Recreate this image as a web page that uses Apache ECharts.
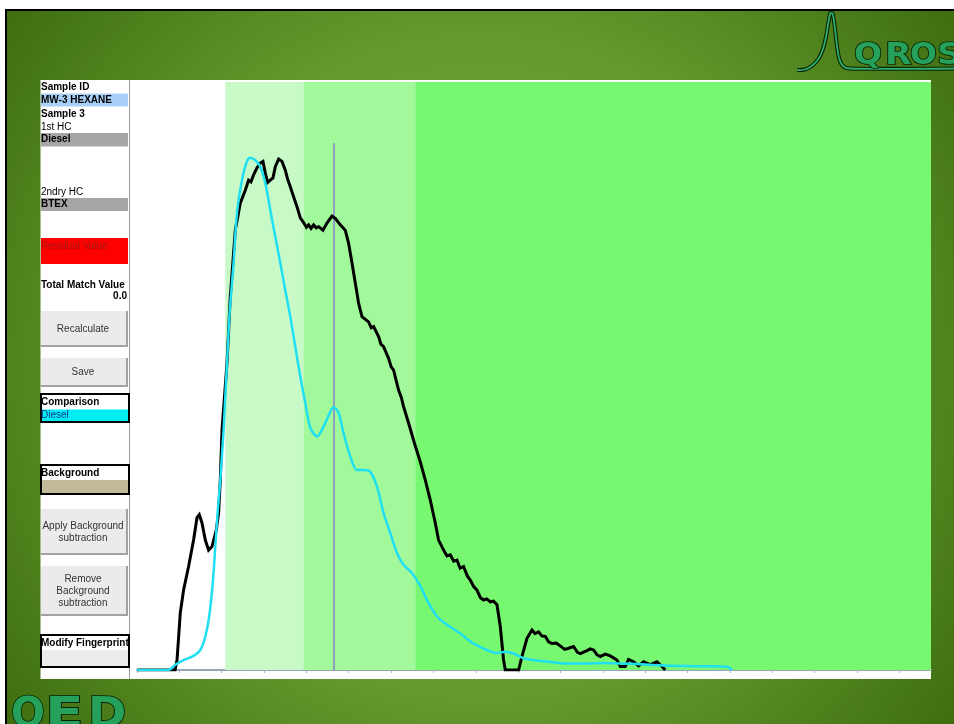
<!DOCTYPE html>
<html>
<head>
<meta charset="utf-8">
<script src="https://cdn.jsdelivr.net/npm/echarts@6/dist/echarts.min.js"></script>
<style>
  html, body { margin: 0; padding: 0; background: #fff; overflow: hidden; }
  #main { width: 954px; height: 724px; }
</style>
</head>
<body>
<div id="main"></div>
<script>
// fingerprint view - sample trace vs comparison trace

// sample (black) trace, [retention, response]
const sampleTrace = [
  [0, 0], [0.90, 0], [0.945, 1.7], [1.022, 9.7], [1.100, 13.6], [1.218, 17.6], [1.336, 22.1], [1.417, 25.9],
  [1.471, 26.4], [1.535, 25.0], [1.613, 22.1], [1.691, 20.4], [1.771, 21.0], [1.872, 23.8], [1.927, 26.7],
  [1.967, 32.3], [2.007, 40.8], [2.125, 52.2], [2.203, 63.5], [2.321, 74.8], [2.439, 79.4], [2.557, 81.6],
  [2.635, 83.3], [2.690, 83.0], [2.753, 84.2], [2.834, 85.4], [2.911, 86.2], [2.975, 86.5], [3.030, 84.5],
  [3.084, 82.9], [3.148, 83.3], [3.211, 83.7], [3.266, 85.6], [3.344, 86.9], [3.424, 86.5], [3.502, 85.0],
  [3.560, 83.4], [3.620, 82.2], [3.698, 80.5], [3.778, 78.8], [3.856, 76.9], [3.934, 76.1], [4.000, 75.3],
  [4.052, 75.7], [4.110, 75.1], [4.170, 75.7], [4.230, 75.2], [4.288, 75.4], [4.392, 74.8], [4.486, 76.0],
  [4.604, 77.2], [4.682, 76.8], [4.800, 75.7], [4.918, 74.8], [4.996, 72.6], [5.077, 69.2], [5.155, 65.8],
  [5.233, 62.4], [5.313, 60.1], [5.400, 59.6], [5.469, 59.2], [5.530, 58.2], [5.587, 58.4], [5.705, 56.7],
  [5.760, 55.4], [5.823, 55.0], [5.941, 53.0], [6.000, 51.6], [6.059, 51.0], [6.177, 47.6], [6.240, 46.4],
  [6.295, 44.8], [6.413, 42.0], [6.550, 38.6], [6.690, 35.4], [6.808, 32.3], [6.926, 28.9], [7.044, 25.0],
  [7.122, 22.1], [7.240, 20.4], [7.320, 19.4], [7.398, 19.6], [7.480, 18.5], [7.556, 18.7], [7.630, 17.3],
  [7.712, 17.6], [7.800, 16.0], [7.870, 15.3], [7.950, 14.2], [8.028, 13.6], [8.110, 12.3], [8.184, 11.9],
  [8.260, 12.1], [8.342, 11.6], [8.420, 11.7], [8.501, 11.1], [8.579, 7.4], [8.656, 1.7], [8.697, 0],
  [9.011, 0], [9.091, 2.3], [9.209, 5.4], [9.327, 6.8], [9.400, 6.2], [9.483, 6.5], [9.560, 5.8],
  [9.641, 5.7], [9.720, 4.8], [9.799, 4.5], [9.900, 4.6], [9.995, 4.1], [10.100, 3.5], [10.191, 3.7],
  [10.309, 4.0], [10.400, 3.0], [10.468, 2.8], [10.626, 3.3], [10.700, 3.6], [10.782, 3.4], [10.860, 2.6],
  [10.940, 2.3], [11.060, 2.7], [11.176, 2.4], [11.334, 1.7], [11.412, 0.6], [11.530, 0.6], [11.608, 1.8],
  [11.726, 1.4], [11.844, 0.7], [11.962, 1.4], [12.120, 0.9], [12.279, 1.4], [12.397, 0.6], [12.475, 0]
];

// comparison (Diesel) trace
const dieselTrace = [
  [0, 0], [0.746, 0], [0.904, 0.9], [1.100, 1.7], [1.336, 2.4], [1.495, 3.4], [1.613, 5.7], [1.714, 9.6],
  [1.795, 15.3], [1.849, 21.0], [1.903, 26.7], [1.967, 32.3], [2.045, 40.8], [2.125, 52.2], [2.187, 60.7],
  [2.281, 69.2], [2.361, 77.7], [2.479, 83.3], [2.597, 86.5], [2.675, 87.1], [2.793, 86.7], [2.911, 85.6],
  [3.030, 82.8], [3.148, 78.2], [3.266, 73.7], [3.384, 69.2], [3.502, 64.6], [3.620, 60.1], [3.738, 55.0],
  [3.856, 49.9], [3.974, 45.4], [4.092, 41.2], [4.250, 39.7], [4.406, 41.4], [4.564, 43.9], [4.642, 44.7],
  [4.760, 43.7], [4.878, 40.3], [5.037, 36.3], [5.195, 34.0], [5.351, 34.0], [5.509, 33.7], [5.667, 31.2],
  [5.823, 26.7], [5.981, 23.3], [6.139, 19.9], [6.295, 17.9], [6.493, 16.5], [6.690, 14.3], [6.848, 11.9],
  [7.084, 9.1], [7.320, 7.7], [7.634, 6.2], [7.948, 4.5], [8.264, 3.4], [8.501, 2.9], [8.697, 3.1],
  [8.893, 2.8], [9.129, 2.0], [9.445, 1.6], [9.837, 1.3], [10.231, 1.1], [10.626, 1.1], [11.018, 1.2],
  [11.412, 1.1], [11.806, 1.0], [12.198, 0.85], [12.593, 0.73], [12.987, 0.68], [13.379, 0.63],
  [13.932, 0.56], [14.050, 0]
];

const xTicks = [0, 1, 2, 3, 4, 5, 6, 7, 8, 9, 10, 11, 12, 13, 14, 15, 16, 17, 18];
const xMax = 18.75;
const bandEdges = [2.085, 3.93, 6.57, 18.75];
const markerX = 4.64, markerTop = 89.6;

const FONT = '"Liberation Sans", Arial, sans-serif';

function label(text, x, y, extra) {
  return {
    type: 'text', silent: true,
    style: Object.assign({
      text: text, x: x, y: y, font: '10px ' + FONT, fill: '#000',
      align: 'left', textAlign: 'left', verticalAlign: 'middle', textVerticalAlign: 'middle'
    }, extra || {})
  };
}
function bold(text, x, y, extra) {
  return label(text, x, y, Object.assign({ font: 'bold 10px ' + FONT }, extra || {}));
}
function band(y1, y2, color, x1, x2) {
  return { type: 'rect', silent: true, shape: { x: x1 || 41, y: y1, width: (x2 || 128) - (x1 || 41), height: y2 - y1 }, style: { fill: color } };
}
function button(y1, y2, lines) {
  const out = [
    { type: 'rect', silent: true, shape: { x: 41, y: y1, width: 87, height: y2 - y1 }, style: { fill: '#ebebeb' } },
    { type: 'polyline', silent: true, shape: { points: [[41, y2 - 1], [127, y2 - 1], [127, y1]] }, style: { stroke: '#a2a2a2', lineWidth: 2, fill: 'none' } }
  ];
  const mid = (y1 + y2) / 2;
  lines.forEach((t, i) => out.push(label(t, 83, mid + (i - (lines.length - 1) / 2) * 12, { align: 'center', textAlign: 'center', fill: '#333' })));
  return out;
}
function frame(y1, y2) {
  return { type: 'rect', silent: true, shape: { x: 41, y: y1, width: 88, height: y2 - y1 }, style: { fill: 'none', stroke: '#000', lineWidth: 2 } };
}
// logo letters, y is the vertical centre of the capitals
function logoLetter(ch, x, y, size, sx) {
  return {
    type: 'text', silent: true, x: x, y: y, scaleX: sx,
    style: {
      text: ch, x: 0, y: 0, font: 'bold ' + size + 'px "DejaVu Sans", sans-serif',
      fill: '#26a15b', stroke: '#082208', lineWidth: 1.6,
      align: 'left', textAlign: 'left', verticalAlign: 'middle', textVerticalAlign: 'middle'
    }
  };
}

const peakPath = [[797, 70], [805, 69.5], [813, 65], [819, 58], [823, 49], [826, 37], [828.5, 22], [830.5, 13],
  [832.5, 13.5], [834.5, 25], [836.5, 42], [839, 58], [843, 66], [850, 68.5], [954, 68.5]];

const graphics = [
  // page frame + green background
  { type: 'rect', silent: true, shape: { x: 5, y: 9, width: 949, height: 715 }, style: { fill: '#000' } },
  { type: 'rect', silent: true, shape: { x: 7, y: 11, width: 947, height: 713 },
    style: { fill: { type: 'radial', x: 0.5, y: 0.5, r: 0.85, colorStops: [
      { offset: 0, color: '#79b242' }, { offset: 0.55, color: '#63992e' }, { offset: 1, color: '#3c6b0d' }] } } },
  // panel + chart white areas
  { type: 'rect', silent: true, shape: { x: 40.5, y: 80, width: 89, height: 599 }, style: { fill: '#fff' } },
  { type: 'rect', silent: true, shape: { x: 130, y: 80, width: 801, height: 599 }, style: { fill: '#fff' } },
  { type: 'line', silent: true, shape: { x1: 129.5, y1: 80, x2: 129.5, y2: 679 }, style: { stroke: '#9c9c9c', lineWidth: 1 } },

  bold('Sample ID', 41, 87.5),
  band(93.5, 106.5, '#a9d1f7'),
  bold('MW-3 HEXANE', 41, 100),
  bold('Sample 3', 41, 114),
  label('1st HC', 41, 127),
  band(133, 146.5, '#a6a6a6'),
  bold('Diesel', 41, 139.5),
  label('2ndry HC', 41, 192),
  band(198, 211, '#a6a6a6'),
  bold('BTEX', 41, 204),
  band(238, 264, '#ff0000'),
  label('Residual Value', 41, 246, { fill: '#a31414' }),
  bold('Total Match Value', 41, 285),
  bold('0.0', 127, 296, { align: 'right', textAlign: 'right' }),
  ...button(311, 347, ['Recalculate']),
  ...button(358, 387, ['Save']),
  band(409.5, 421, '#00eef2', 42, 128),
  frame(394, 422),
  bold('Comparison', 41, 402),
  label('Diesel', 41, 415, { fill: '#1a3490' }),
  band(480, 493, '#c2bb9b', 42, 128),
  frame(465, 494),
  bold('Background', 41, 473),
  ...button(509, 555, ['Apply Background', 'subtraction']),
  ...button(566, 616, ['Remove', 'Background', 'subtraction']),
  band(650, 666, '#ececec', 42, 128),
  frame(635, 667),
  bold('Modify Fingerprint', 41, 643),

  // QROS logo, top right
  { type: 'polyline', silent: true, shape: { smooth: 0.3, points: peakPath }, style: { stroke: '#082208', lineWidth: 4, fill: 'none' } },
  { type: 'polyline', silent: true, shape: { smooth: 0.3, points: peakPath }, style: { stroke: '#2fae68', lineWidth: 1.8, fill: 'none' } },
  logoLetter('Q', 854, 56, 30, 1.1),
  logoLetter('R', 885, 56, 30, 1.15),
  logoLetter('O', 910, 56, 30, 1.05),
  logoLetter('S', 937, 56, 30, 1.15),

  // QED logo, bottom left
  logoLetter('Q', 11, 716, 42, 0.95),
  logoLetter('E', 45, 716, 42, 1.35),
  logoLetter('D', 88, 716, 42, 1.1)
];

const chart = echarts.init(document.getElementById('main'), null, { renderer: 'canvas' });

chart.setOption({
  backgroundColor: '#fff',
  animation: false,
  graphic: { elements: graphics },
  grid: { left: 137, right: 23, top: 82, bottom: 54, outerBoundsMode: 'none' },
  xAxis: {
    type: 'value', min: 0, max: xMax, interval: 1,
    axisLine: { show: true, onZero: false, lineStyle: { color: '#98a4b6', width: 2 } },
    axisTick: { show: true, length: 3, customValues: xTicks, lineStyle: { color: '#a6b0c0', width: 1 } },
    axisLabel: { show: false },
    splitLine: { show: false }
  },
  yAxis: { type: 'value', min: 0, max: 100, show: false },
  series: [
    {
      name: 'Sample 3', type: 'line', data: sampleTrace, smooth: false, showSymbol: false, z: 3,
      lineStyle: { color: '#000', width: 3, join: 'miter' },
      markArea: {
        silent: true,
        data: [
          [{ xAxis: bandEdges[0], itemStyle: { color: '#c8fac8' } }, { xAxis: bandEdges[1] }],
          [{ xAxis: bandEdges[1], itemStyle: { color: '#a1f99b' } }, { xAxis: bandEdges[2] }],
          [{ xAxis: bandEdges[2], itemStyle: { color: '#78f870' } }, { xAxis: bandEdges[3] }]
        ]
      },
      markLine: {
        silent: true, z: 2, symbol: ['none', 'none'], label: { show: false },
        lineStyle: { color: '#8e9ebd', width: 2, type: 'solid' },
        data: [[{ coord: [markerX, 0] }, { coord: [markerX, markerTop] }]]
      }
    },
    {
      name: 'Diesel', type: 'line', data: dieselTrace, smooth: 0.3, showSymbol: false, z: 4,
      lineStyle: { color: '#1fe0f2', width: 2.5 }
    }
  ]
});
</script>
</body>
</html>
